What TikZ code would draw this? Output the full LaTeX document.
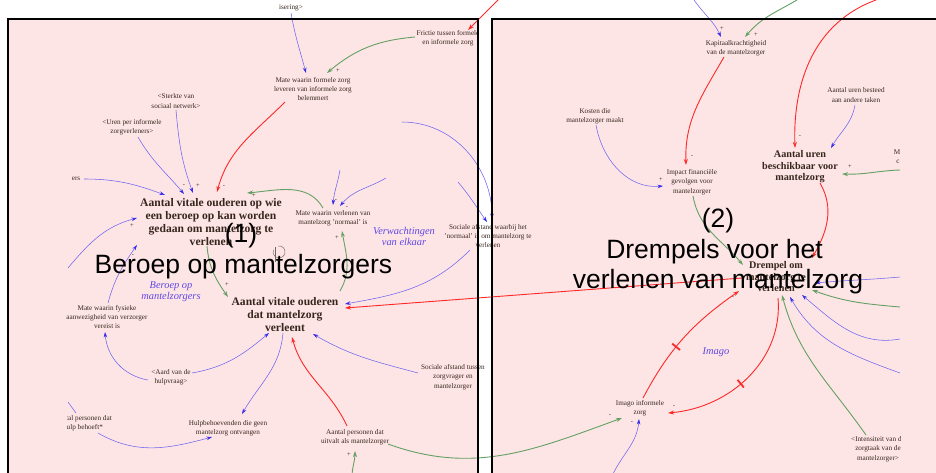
\documentclass[tikz,border=0pt]{standalone}
\usepackage{fontspec}
\setmainfont{Liberation Serif}
\newfontfamily\bigsans{Liberation Sans}
\usetikzlibrary{arrows.meta,decorations.markings}
\definecolor{bgpink}{RGB}{253,229,229}
\definecolor{bline}{RGB}{110,100,240}
\definecolor{bhead}{RGB}{55,45,235}
\definecolor{gline}{RGB}{100,160,100}
\definecolor{rline}{RGB}{255,40,40}
\definecolor{txtc}{RGB}{55,38,30}
\definecolor{itc}{RGB}{95,70,230}
\begin{document}
\begin{tikzpicture}[x=1pt,y=-1pt,
  smalltxt/.style={text=txtc,font=\fontsize{7.2}{9.3}\selectfont,align=center,inner sep=1pt},
  boldA/.style={text=txtc,font=\bfseries\fontsize{11.6}{13}\selectfont,align=center,inner sep=1pt},
  boldB/.style={text=txtc,font=\bfseries\fontsize{10.2}{11.5}\selectfont,align=center,inner sep=1pt},
  itlab/.style={text=itc,font=\itshape\fontsize{10.4}{11}\selectfont,align=center,inner sep=1pt},
  bigtxt/.style={text=black,font=\bigsans\fontsize{26.5}{30}\selectfont,inner sep=0pt,anchor=base},
  pol/.style={text=txtc,font=\fontsize{6.5}{7}\selectfont,inner sep=0pt},
  barrow/.style={draw=bline,line width=0.55pt,-{Stealth[length=5.5pt,width=3.6pt,color=bhead]}},
  garrow/.style={draw=gline,line width=0.9pt,-{Stealth[length=6pt,width=4pt]}},
  rarrow/.style={draw=rline,line width=0.9pt,-{Stealth[length=6pt,width=4pt]}},
  delaymark/.style={postaction={decorate,decoration={markings,mark=at position #1 with {\draw[draw=rline,line width=1.8pt,-] (0pt,-5pt) -- (0pt,5pt);}}}}
]
\useasboundingbox (0,0) rectangle (936,472);
\fill[white] (0,0) rectangle (936,472);
% frames
\fill[bgpink] (8,19) rectangle (478,480);
\fill[bgpink] (492,19) rectangle (945,480);

% ---------- nodes, frame 1
\node[smalltxt] (iser) at (291,8) {isering>};
\node[smalltxt] (fric) at (448,38) {Frictie tussen formele\\en informele zorg};
\node[smalltxt] (mwf) at (313,89) {Mate waarin formele zorg\\leveren van informele zorg\\belemmert};
\node[smalltxt] (ster) at (176,101) {<Sterkte van\\sociaal netwerk>};
\node[smalltxt] (uren) at (132,127) {<Uren per informele\\zorgverleners>};
\node[smalltxt] (ers) at (76,179) {ers};
\node[boldA] (opwie) at (211,222) {Aantal vitale ouderen op wie\\een beroep op kan worden\\gedaan om mantelzorg te\\verlenen};
\node[smalltxt] (mwv) at (333,218) {Mate waarin verlenen van\\mantelzorg 'normaal' is};
\node[itlab] (verw) at (404,236) {Verwachtingen\\van elkaar};
\node[smalltxt] (sawb) at (488,236) {Sociale afstand waarbij het\\'normaal' is om mantelzorg te\\verlenen};
\node[itlab] (berit) at (171,292) {Beroep op\\mantelzorgers};
\node[boldA] (dat) at (285,315) {Aantal vitale ouderen\\dat mantelzorg\\verleent};
\node[smalltxt] (mwfy) at (107,317) {Mate waarin fysieke\\aanwezigheid van verzorger\\vereist is};
\node[smalltxt] (aard) at (171,377) {<Aard van de\\hulpvraag>};
\begin{scope}
\clip (67,395) rectangle (200,445);
\node[smalltxt] (ptal) at (83,423) {Aantal personen dat\\hulp behoeft*};
\end{scope}
\node[smalltxt] (hulp) at (228,428) {Hulpbehoevenden die geen\\mantelzorg ontvangen};
\node[smalltxt] (sat) at (453,377) {Sociale afstand tussen\\zorgvrager en\\mantelzorger};
\node[smalltxt] (uitv) at (355,437) {Aantal personen dat\\uitvalt als mantelzorger};

% ---------- nodes, frame 2
\node[smalltxt] (kap) at (736,48) {Kapitaalkrachtigheid\\van de mantelzorger};
\node[smalltxt] (kost) at (595,116) {Kosten die\\mantelzorger maakt};
\node[smalltxt] (best) at (856,95) {Aantal uren besteed\\aan andere taken};
\node[boldB] (besch) at (800,167) {Aantal uren\\beschikbaar voor\\mantelzorg};
\node[smalltxt] (mM) at (897,152) {M};
\node[smalltxt] (mc) at (898,162) {c};
\node[smalltxt] (impact) at (692,182) {Impact financiële\\gevolgen voor\\mantelzorger};
\node[boldB] (drem) at (776,277) {Drempel om\\mantelzorg te\\verlenen};
\node[itlab] (imago) at (716,352) {Imago};
\node[smalltxt] (imi) at (640,408) {Imago informele\\zorg};
\begin{scope}
\clip (830,425) rectangle (900,470);
\node[smalltxt] (inten) at (878,449) {<Intensiteit van de\\zorgtaak van de\\mantelzorger>};
\end{scope}

% free ends
\coordinate (topR) at (500,-2);
\coordinate (f8) at (68,268);
\coordinate (f13a) at (340,170);
\coordinate (f13b) at (386,178);
\coordinate (f14a) at (402,122);
\coordinate (f14b) at (458,182);
\coordinate (f23) at (68,402);
\coordinate (f24) at (352,476);
\coordinate (f28) at (612,476);
\coordinate (f32) at (694,0);
\coordinate (f33) at (797,0);
\coordinate (f34) at (876,0);
\coordinate (f36) at (900,170);
\coordinate (f38) at (900,277);
\coordinate (f39) at (900,307);
\coordinate (f41) at (900,339);
\coordinate (f42) at (900,373);

% ---------- connectors, frame 1
\draw[barrow] ([shift={(0,5)}]iser.center) to[out=-80,in=105] ([shift={(-7,-16)}]mwf.center);
\draw[garrow] ([shift={(-33,-1)}]fric.center) to[out=185,in=40] ([shift={(14,-16)}]mwf.center);
\draw[rarrow] (topR) -- ([shift={(20,-8)}]fric.center);
\draw[rarrow] ([shift={(-28,13)}]mwf.center) to[out=225,in=75] ([shift={(6,-30)}]opwie.center);
\draw[barrow] ([shift={(0,9)}]ster.center) to[out=-85,in=110] ([shift={(-18,-29)}]opwie.center);
\draw[barrow] ([shift={(6,10)}]uren.center) to[out=-60,in=130] ([shift={(-27,-28)}]opwie.center);
\draw[barrow] ([shift={(8,0)}]ers.center) to[out=0,in=160] ([shift={(-46,-27)}]opwie.center);
\draw[barrow] (f8) to[out=50,in=195] ([shift={(-74,-4)}]opwie.center);
\draw[barrow] ([shift={(1,-14)}]mwfy.center) to[out=75,in=235] ([shift={(-74,23)}]opwie.center);
\draw[garrow] ([shift={(-4,24)}]opwie.center) to[out=-85,in=125] ([shift={(-57,-18)}]dat.center);
\draw[garrow] ([shift={(-10,-10)}]mwv.center) to[out=120,in=5] ([shift={(36,-29)}]opwie.center);
\draw[garrow] ([shift={(55,-24)}]dat.center) to[out=60,in=-80] ([shift={(9,13)}]mwv.center);
\draw[barrow] (f13a) to[out=-100,in=85] ([shift={(0,-13)}]mwv.center);
\draw[barrow] (f13b) to[out=210,in=50] ([shift={(7,-12)}]mwv.center);
\draw[barrow] (f14a) to[out=0,in=90] ([shift={(4,-17)}]sawb.center);
\draw[barrow] (f14b) to[out=-50,in=125] ([shift={(-1,-14)}]sawb.center);
\draw[barrow] ([shift={(-18,14)}]sawb.center) to[out=225,in=10] ([shift={(60,-11)}]dat.center);
\draw[barrow] ([shift={(-35,-4)}]sat.center) to[out=165,in=-30] ([shift={(28,19)}]dat.center);
\draw[rarrow] ([shift={(-8,-11)}]uitv.center) to[out=115,in=-75] ([shift={(7,22)}]dat.center);
\draw[barrow] ([shift={(-2,18)}]dat.center) to[out=-95,in=60] ([shift={(14,-14)}]hulp.center);
\draw[barrow] ([shift={(21,-4)}]aard.center) to[out=10,in=220] ([shift={(-16,18)}]dat.center);
\draw[barrow] ([shift={(-23,3)}]aard.center) to[out=170,in=-85] ([shift={(-2,15)}]mwfy.center);
\draw[barrow] ([shift={(15,10)}]ptal.center) to[out=-30,in=195] ([shift={(-16,9)}]hulp.center);
\draw[draw=bline,line width=0.55pt] (f23) -- ([shift={(-7,-10)}]ptal.center);
\draw[garrow] (f24) to[out=88,in=-90] ([shift={(0,14)}]uitv.center);
% cross-frame connectors
\draw[rarrow] ([shift={(-34,1)}]drem.center) -- ([shift={(60,-7)}]dat.center);
\draw[garrow] ([shift={(33,7)}]uitv.center) to[out=-20,in=200] ([shift={(-18,10)}]imi.center);

% ---------- connectors, frame 2
\draw[rarrow,delaymark=0.42] ([shift={(3,-10)}]imi.center) to[out=62,in=215] ([shift={(-37,14)}]drem.center);
\draw[rarrow,delaymark=0.55] ([shift={(2,21)}]drem.center) to[out=-85,in=5] ([shift={(28,5)}]imi.center);
\draw[barrow] (f28) to[out=65,in=-95] ([shift={(-1,11)}]imi.center);
\draw[rarrow] ([shift={(-12,9)}]kap.center) to[out=-120,in=92] ([shift={(-6,-17)}]impact.center);
\draw[barrow] ([shift={(1,9)}]kost.center) to[out=-80,in=185] ([shift={(-29,4)}]impact.center);
\draw[garrow] ([shift={(1,14)}]impact.center) to[out=-80,in=130] ([shift={(-33,-12)}]drem.center);
\draw[barrow] (f32) to[out=-55,in=115] ([shift={(-15,-11)}]kap.center);
\draw[garrow] (f33) to[out=210,in=50] ([shift={(9,-11)}]kap.center);
\draw[rarrow] (f34) to[out=200,in=92] ([shift={(-5,-19)}]besch.center);
\draw[barrow] ([shift={(-1,10)}]best.center) to[out=-100,in=60] ([shift={(31,-19)}]besch.center);
\draw[garrow] (f36) to[out=182,in=-2] ([shift={(42,7)}]besch.center);
\draw[rarrow] ([shift={(20,16)}]besch.center) to[out=-60,in=60] ([shift={(36,-19)}]drem.center);
\draw[barrow] (f38) to[out=185,in=5] ([shift={(39,6)}]drem.center);
\draw[garrow] (f39) to[out=175,in=-20] ([shift={(36,13)}]drem.center);
\draw[garrow] ([shift={(-12,-14)}]inten.center) to[out=125,in=-75] ([shift={(6,18)}]drem.center);
\draw[barrow] (f41) to[out=190,in=-40] ([shift={(26,18)}]drem.center);
\draw[barrow] (f42) to[out=160,in=-60] ([shift={(14,20)}]drem.center);

% ---------- polarity signs
\node[pol] (p1) at (338,71) {+};
\node[pol] (p2) at (184,186) {-};
\node[pol] (p3) at (198,186) {+};
\node[pol] (p4) at (224,187) {-};
\node[pol] (p5) at (132,226) {+};
\node[pol] (p6) at (133,256) {-};
\node[pol] (p7) at (227,285) {+};
\node[pol] (p8) at (254,196) {+};
\node[pol] (p9) at (337,238) {+};
\node[pol] (p10) at (336,201) {-};
\node[pol] (p11) at (347,208) {-};
\node[pol] (p12) at (349,455) {+};
\node[pol] (p13) at (722,29) {+};
\node[pol] (p14) at (756,35) {+};
\node[pol] (p15) at (800,137) {-};
\node[pol] (p16) at (850,167) {+};
\node[pol] (p17) at (661,180) {+};
\node[pol] (p18) at (692,157) {-};
\node[pol] (p19) at (733,298) {-};
\node[pol] (p20) at (610,416) {-};
\node[pol] (p21) at (632,423) {-};
\node[pol] (p22) at (674,407) {-};

% loop symbol
\draw[draw=txtc!70,line width=0.45pt] (275,247) -- (275,262);
\draw[draw=txtc!70,line width=0.45pt] (278,246) arc[start angle=100,end angle=-200,x radius=6,y radius=-6];

% frame borders
\draw[line width=1.6pt] (8,480) -- (8,19) -- (478,19) -- (478,480);
\draw[line width=1.6pt] (492,480) -- (492,19) -- (945,19);

% big titles
\node[bigtxt] (t1a) at (241,242) {(1)};
\node[bigtxt] (t1b) at (243.5,273) {Beroep op mantelzorgers};
\node[bigtxt] (t2a) at (718,227) {(2)};
\node[bigtxt] (t2b) at (714.5,258) {Drempels voor het};
\node[bigtxt] (t2c) at (718,288) {verlenen van mantelzorg};
\end{tikzpicture}
\end{document}
